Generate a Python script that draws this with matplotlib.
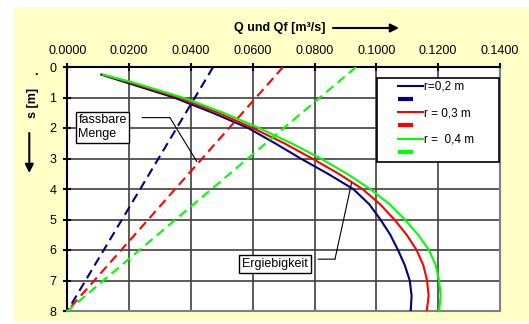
import matplotlib
matplotlib.use("Agg")
import matplotlib.pyplot as plt
from matplotlib.patches import Rectangle
from matplotlib.lines import Line2D
from matplotlib.legend_handler import HandlerLine2D

plt.rcParams['font.family'] = ['Liberation Sans', 'DejaVu Sans']

# Absenkung s [m] (Ergiebigkeit)
s_q = [0.25, 0.5, 1.0, 1.5, 2.0, 2.5, 3.0, 3.5, 4.0, 4.5, 5.0, 5.5, 6.0, 6.5, 7.0, 7.5, 8.0]

# Ergiebigkeit Q [m3/s]
q_r02 = [0.0110, 0.0188, 0.0345, 0.0470, 0.0585, 0.0672, 0.0755, 0.0843, 0.0925, 0.0977,
         0.1013, 0.1045, 0.1070, 0.1092, 0.1108, 0.1114, 0.1111]
q_r03 = [0.0114, 0.0200, 0.0360, 0.0488, 0.0600, 0.0702, 0.0792, 0.0878, 0.0955, 0.1012,
         0.1058, 0.1098, 0.1130, 0.1152, 0.1164, 0.1169, 0.1163]
q_r04 = [0.0116, 0.0210, 0.0373, 0.0505, 0.0620, 0.0725, 0.0820, 0.0905, 0.0980, 0.1043,
         0.1092, 0.1135, 0.1170, 0.1192, 0.1203, 0.1208, 0.1203]

# fassbare Menge Qf [m3/s]
s_f = [0.0, 8.0]
qf_r02 = [0.0472, 0.0]
qf_r03 = [0.0698, 0.0]
qf_r04 = [0.0934, 0.0]

labels = ['r=0,2 m', 'r = 0,3 m', 'r =  0,4 m']
colors = ['#000080', '#FF0000', '#00FF00']
x_ticks = [0.0, 0.02, 0.04, 0.06, 0.08, 0.10, 0.12, 0.14]
y_ticks = [0, 1, 2, 3, 4, 5, 6, 7, 8]

W, H = 529, 324
fig = plt.figure(figsize=(W / 100, H / 100), dpi=100)
fig.patch.set_facecolor('white')
fig.patches.append(Rectangle((12.7 / W, 2 / H), 1 - 12.7 / W, 315 / H,
                             transform=fig.transFigure, facecolor='#FFFFC8',
                             edgecolor='none', zorder=-5))

ax = fig.add_axes([67.3 / W, 1 - 311 / H, 432.7 / W, 244 / H])
ax.set_zorder(2)
ax.set_facecolor('white')

for q, qf, c in zip([q_r02, q_r03, q_r04], [qf_r02, qf_r03, qf_r04], colors):
    ax.plot(q, s_q, color=c, lw=1.5, zorder=3)
    ax.plot(qf, s_f, color=c, lw=1.5, dashes=(4.5, 2.6), zorder=3)

ax.set_xlim(0, 0.14)
ax.set_ylim(8, 0)
ax.set_xticks(x_ticks)
ax.set_yticks(y_ticks)
ax.xaxis.set_major_formatter(matplotlib.ticker.FormatStrFormatter('%.4f'))
ax.xaxis.tick_top()
ax.tick_params(axis='both', direction='inout', length=6, width=1.5, labelsize=9,
               colors='black', pad=5)
ax.tick_params(axis='x', pad=4)
ax.grid(True, color='#404040', lw=1.2)
ax.set_axisbelow(True)
for side in ['top', 'left']:
    ax.spines[side].set_color('black')
    ax.spines[side].set_linewidth(1.5)
for side in ['bottom', 'right']:
    ax.spines[side].set_color('#808080')
    ax.spines[side].set_linewidth(1.5)

# Legende
handles = []
leg_labels = []
for lab, c in zip(labels, colors):
    handles.append(Line2D([], [], color=c, lw=1.5))
    leg_labels.append(lab)
    handles.append(Line2D([], [], color=c, lw=3, dashes=(3.6, 6)))
    leg_labels.append(' ')
leg = ax.legend(handles, leg_labels, loc='upper left',
                bbox_to_anchor=(0.716, 0.631, 0.281, 0.324), mode='expand',
                borderaxespad=0, fontsize=8.5, labelspacing=0.1, borderpad=0.25,
                handlelength=3.6, handletextpad=0.15,
                handler_map={Line2D: HandlerLine2D(xpad=1.55)},
                fancybox=False, framealpha=1, edgecolor='black')
leg.get_frame().set_linewidth(1.2)

# Beschriftungen
ax.text(0.0036, 1.98, 'fassbare\nMenge', ha='left', va='center', fontsize=9, zorder=5,
        bbox=dict(boxstyle='square,pad=0.2', fc='white', ec='black', lw=1))
line_kw = dict(arrowstyle='-', lw=0.8, color='black', shrinkA=0, shrinkB=0)
ax.annotate('', xy=(0.0332, 1.66), xytext=(0.0242, 1.66), arrowprops=line_kw)
ax.annotate('', xy=(0.0419, 3.10), xytext=(0.0332, 1.66), arrowprops=line_kw)

ax.text(0.0673, 6.46, 'Ergiebigkeit', ha='center', va='center', fontsize=9, zorder=5,
        bbox=dict(boxstyle='square,pad=0.25', fc='white', ec='black', lw=1))
ax.annotate('', xy=(0.0866, 6.30), xytext=(0.0811, 6.30), arrowprops=line_kw)
ax.annotate('', xy=(0.0920, 3.79), xytext=(0.0866, 6.30), arrowprops=line_kw)

fig.text(280 / W, 1 - 28 / H, 'Q und Qf [m³/s]', ha='center', va='center',
         fontsize=9, fontweight='bold')
fig.add_artist(matplotlib.patches.FancyArrowPatch(
    (333 / W, 1 - 28 / H), (399 / W, 1 - 28 / H), transform=fig.transFigure,
    arrowstyle='-|>,head_length=5,head_width=2.5', lw=1.5, color='black',
    shrinkA=0, shrinkB=0))

fig.text(32.7 / W, 1 - 103 / H, 's [m]', ha='center', va='center', rotation=90,
         fontsize=9, fontweight='bold')
fig.add_artist(matplotlib.patches.FancyArrowPatch(
    (29.3 / W, 1 - 133 / H), (29.3 / W, 1 - 173 / H), transform=fig.transFigure,
    arrowstyle='-|>,head_length=5,head_width=2.5', lw=1.5, color='black',
    shrinkA=0, shrinkB=0))
fig.text(36 / W, 1 - 72 / H, '.', ha='center', va='center', fontsize=9, fontweight='bold')

fig.savefig('out.png', dpi=100)
